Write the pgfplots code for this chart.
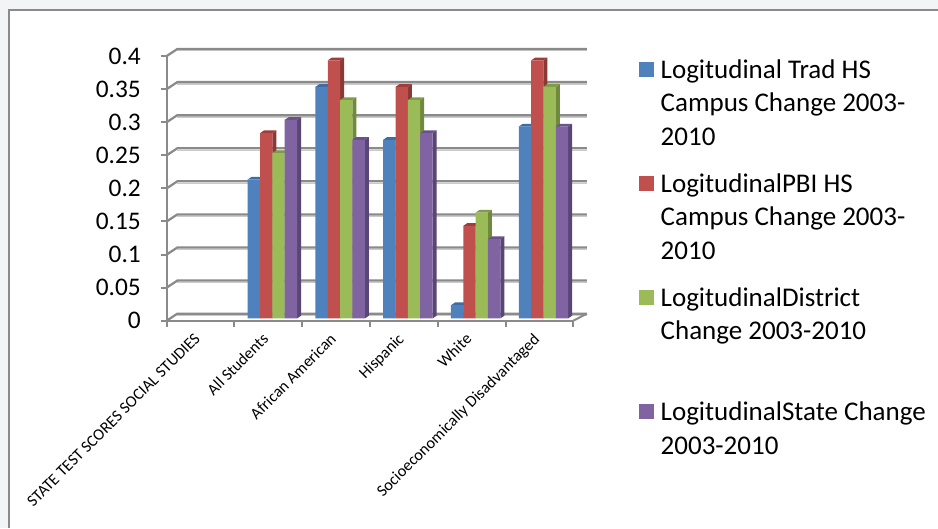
\documentclass[border=0pt]{standalone}
\usepackage{fontspec}
\setmainfont{Carlito}
\usepackage{pgfplots}
\usepackage{pgfplotstable}
\pgfplotsset{compat=1.18}

\definecolor{serA}{HTML}{4F81BD}\definecolor{serAs}{HTML}{385D8A}\definecolor{serAt}{HTML}{3F6CA3}
\definecolor{serB}{HTML}{C0504D}\definecolor{serBs}{HTML}{8C3836}\definecolor{serBt}{HTML}{9E3D3A}
\definecolor{serC}{HTML}{9BBB59}\definecolor{serCs}{HTML}{6F8A3C}\definecolor{serCt}{HTML}{7F9C45}
\definecolor{serD}{HTML}{8064A2}\definecolor{serDs}{HTML}{5A4676}\definecolor{serDt}{HTML}{6A5288}
\definecolor{gridc}{HTML}{8A8A8A}
\definecolor{pagebg}{HTML}{F3F4F6}

% bar centres sit at category + .286/.468/.650/.832
\pgfplotstableread{
x y
1.286 0.21
2.286 0.35
3.286 0.27
4.286 0.02
5.286 0.29
}\serAdata
\pgfplotstableread{
x y
1.468 0.28
2.468 0.39
3.468 0.35
4.468 0.14
5.468 0.39
}\serBdata
\pgfplotstableread{
x y
1.650 0.25
2.650 0.33
3.650 0.33
4.650 0.16
5.650 0.35
}\serCdata
\pgfplotstableread{
x y
1.832 0.30
2.832 0.27
3.832 0.28
4.832 0.12
5.832 0.29
}\serDdata

\tikzset{barlift/.style={yshift=1.7pt}}

% side and top faces of one series, then its front faces
\newcommand\drawseries[2]{%
  \pgfplotstablegetrowsof{#1}%
  \pgfmathtruncatemacro\lastrow{\pgfplotsretval-1}%
  \pgfplotsforeachungrouped \r in {0,...,\lastrow}{%
    \pgfplotstablegetelem{\r}{x}\of{#1}\let\bx\pgfplotsretval
    \pgfplotstablegetelem{\r}{y}\of{#1}\let\by\pgfplotsretval
    \pgfmathsetmacro\xl{\bx-.091}\pgfmathsetmacro\xr{\bx+.091}%
    \pgfmathsetmacro\xlb{\xl+.059}\pgfmathsetmacro\xrb{\xr+.059}%
    \pgfmathsetmacro\yb{\by+.0041}%
    \edef\faces{%
      \noexpand\addplot[forget plot,barlift,draw=none,fill=#2s] coordinates {(\xr,0)(\xrb,.0041)(\xrb,\yb)(\xr,\by)} --cycle;
      \noexpand\addplot[forget plot,barlift,draw=none,fill=#2t] coordinates {(\xl,\by)(\xlb,\yb)(\xrb,\yb)(\xr,\by)} --cycle;
    }\faces
  }%
  \addplot[ybar,bar width=.182,bar shift=0pt,barlift,draw=none,fill=#2,
    legend image code/.code={\fill[#2] (0,-.75pt) rectangle (11.25pt,10.5pt);}] table {#1};
}

\begin{document}
\begin{tikzpicture}
\useasboundingbox (0,0) rectangle (703.5pt,-396pt);
\fill[pagebg] (0,0) rectangle (703.5pt,-396pt);
\fill[white] (6.75pt,-7.5pt) rectangle (703.5pt,-396pt);
\draw[gridc,line width=1.5pt] (6.75pt,-396pt) -- (6.75pt,-7.5pt) -- (703.5pt,-7.5pt);
\begin{axis}[
  at={(125.03pt,-240.53pt)},anchor=south west,
  scale only axis,width=304.95pt,height=198.5pt,
  xmin=0,xmax=6,ymin=0,ymax=.4,
  clip=false,
  axis lines*=left,
  axis line style={gridc,line width=1.5pt},
  tick style={gridc,line width=1.5pt},
  major tick length=4.5pt,
  tick align=outside,
  xtick={0,...,6},
  x tick label as interval,
  xticklabels={STATE TEST SCORES SOCIAL STUDIES,All Students,African American,Hispanic,White,Socioeconomically Disadvantaged},
  xticklabel style={rotate=45,anchor=north east,font=\fontsize{12.2pt}{14pt}\selectfont,inner sep=0pt,yshift=1pt,xshift=-6.5pt},
  ytick={0,.05,.1,.15,.2,.25,.3,.35,.4},
  yticklabels={0,0.05,0.1,0.15,0.2,0.25,0.3,0.35,0.4},
  yticklabel style={font=\fontsize{19pt}{22pt}\selectfont,inner sep=0pt,xshift=-14.75pt},
  legend style={draw=none,fill=none,at={(1.161,.987)},anchor=north west,inner sep=0pt,
    row sep=70pt,column sep=5pt,
    nodes={inner sep=0pt},
    cells={anchor=base west},
    font=\fontsize{20.25pt}{25pt}\selectfont},
]
% back wall and floor
\pgfplotsinvokeforeach{0,.05,.1,.15,.2,.25,.3,.35,.4}{
  \draw[gridc!45,line width=.9pt] (axis cs:.156,#1+.0078) -- (axis cs:6.2,#1+.0078);
  \draw[gridc,line width=1.7pt] (axis cs:0,#1) -- (axis cs:.156,#1+.0106) -- (axis cs:6.2,#1+.0106);
}
\draw[gridc,line width=1.5pt] (axis cs:6,0) -- (axis cs:6.2,.0106);
\drawseries{\serAdata}{serA}
\addlegendentry{\parbox[t]{205pt}{Logitudinal Trad HS\\Campus Change 2003-\\2010}}
\drawseries{\serBdata}{serB}
\addlegendentry{\parbox[t]{205pt}{LogitudinalPBI HS\\Campus Change 2003-\\2010}}
\drawseries{\serCdata}{serC}
\addlegendentry{\parbox[t]{205pt}{LogitudinalDistrict\\Change 2003-2010}}
\drawseries{\serDdata}{serD}
\addlegendentry{\parbox[t]{205pt}{LogitudinalState Change\\2003-2010}}
\end{axis}
\end{tikzpicture}
\end{document}
